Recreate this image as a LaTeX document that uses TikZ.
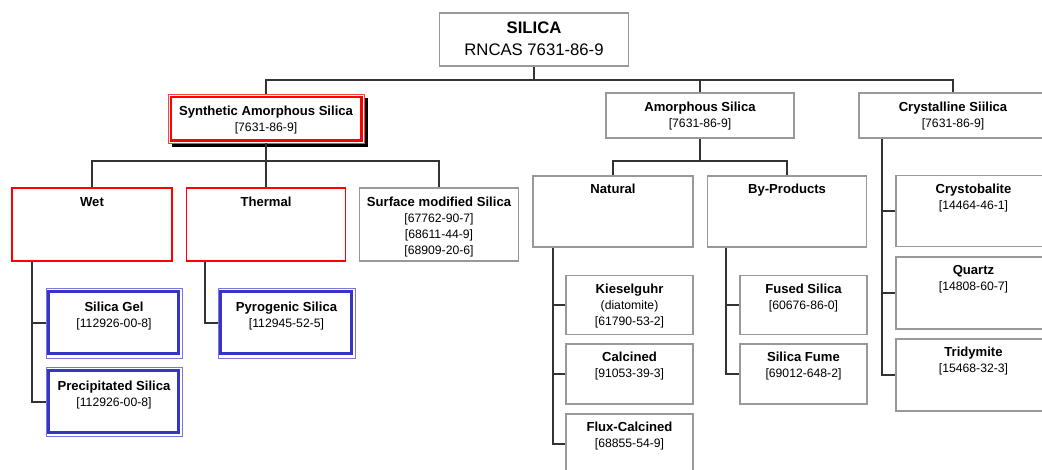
\documentclass[tikz,border=0pt]{standalone}
\usepackage{fontspec}
\setmainfont{Liberation Sans}
\definecolor{conncol}{HTML}{333333}
\definecolor{boxgray}{HTML}{999999}
\definecolor{redout}{HTML}{FF4040}
\definecolor{bluein}{HTML}{3535C8}
\definecolor{blueout}{HTML}{7777DD}
\tikzset{
  conn/.style={draw=conncol, line width=1.5pt},
  gbox/.style={draw=boxgray, line width=1.5pt, fill=white, inner sep=0pt},
  rbox/.style={draw=red, line width=1.5pt, fill=white, inner sep=0pt},
  sbox/.style={draw=redout, line width=0.8pt, fill=white, inner sep=0pt},
  sinner/.style={draw=red, line width=2.2pt},
  bbox/.style={draw=blueout, line width=1pt, fill=white, inner sep=0pt},
  binner/.style={draw=bluein, line width=3pt},
  lbl/.style={anchor=north, inner sep=0pt, align=center, font=\fontsize{12.2}{16}\selectfont},
}
\newcommand\hdr[1]{{\bfseries\fontsize{13.1}{16}\selectfont #1}}
\begin{document}
\begin{tikzpicture}[x=1pt, y=-1pt]
\useasboundingbox (0,0) rectangle (1042,469);
\clip (0,0) rectangle (1042,469);

% ---------- boxes ----------
\node[gbox, minimum width=189pt, minimum height=53pt] (title) at (534,39.5) {};
% synthetic with shadow
\fill[black] (172,98) rectangle (368,147);
\node[sbox, minimum width=196pt, minimum height=49pt] (syn) at (266,118.5) {};
\draw[sinner] ([shift={(3pt,-3pt)}]syn.north west) rectangle ([shift={(-3pt,3pt)}]syn.south east);
\node[gbox, minimum width=188pt, minimum height=45pt] (am) at (700,115.5) {};
\node[gbox, minimum width=188pt, minimum height=45pt] (cry) at (953,115.5) {};

\node[rbox, minimum width=160pt, minimum height=73pt] (wet) at (92,224.5) {};
\node[rbox, minimum width=159pt, minimum height=73pt] (th) at (266,224.5) {};
\node[gbox, minimum width=159pt, minimum height=73pt] (surf) at (439,224.5) {};

\node[bbox, minimum width=136pt, minimum height=70pt] (gel) at (114,323) {};
\node[bbox, minimum width=136pt, minimum height=69pt] (prec) at (114,402) {};
\node[bbox, minimum width=137pt, minimum height=70pt] (pyro) at (286.5,323) {};
\foreach \n in {gel,prec,pyro}{
  \draw[binner] ([shift={(3.2pt,-3.8pt)}]\n.north west) rectangle ([shift={(-4.2pt,4.8pt)}]\n.south east);
}

\node[gbox, minimum width=160pt, minimum height=71pt] (nat) at (613,211.5) {};
\node[gbox, minimum width=159pt, minimum height=71pt] (byp) at (787,211.5) {};
\node[gbox, minimum width=127pt, minimum height=59pt] (kies) at (629.5,305) {};
\node[gbox, minimum width=127pt, minimum height=60pt] (calc) at (629.5,374) {};
\node[gbox, minimum width=127pt, minimum height=60pt] (flux) at (629.5,444) {};
\node[gbox, minimum width=127pt, minimum height=59pt] (fused) at (803.5,305) {};
\node[gbox, minimum width=127pt, minimum height=60pt] (fume) at (803.5,374) {};
\node[gbox, minimum width=155pt, minimum height=71pt] (crysto) at (973.5,211) {};
\node[gbox, minimum width=155pt, minimum height=72pt] (quartz) at (973.5,293) {};
\node[gbox, minimum width=155pt, minimum height=72pt] (trid) at (973.5,375) {};

% ---------- labels ----------
\node[anchor=north, inner sep=0pt, align=center, font=\fontsize{16.7}{22}\selectfont] (title-t) at ([yshift=-9pt]title.north) {{\bfseries SILICA}\\RNCAS 7631-86-9};
\node[lbl] (syn-t) at ([yshift=-12.5pt]syn.north) {\hdr{Synthetic Amorphous Silica}\\{[7631-86-9]}};
\node[lbl] (am-t) at ([yshift=-10pt]am.north) {\hdr{Amorphous Silica}\\{[7631-86-9]}};
\node[lbl] (cry-t) at ([yshift=-10pt]cry.north) {\hdr{Crystalline Siilica}\\{[7631-86-9]}};
\node[lbl] (wet-t) at ([yshift=-10pt]wet.north) {\hdr{Wet}};
\node[lbl] (th-t) at ([yshift=-10pt]th.north) {\hdr{Thermal}};
\node[lbl] (surf-t) at ([yshift=-10pt]surf.north) {\hdr{Surface modified Silica}\\{[67762-90-7]}\\{[68611-44-9]}\\{[68909-20-6]}};
\node[lbl] (gel-t) at ([yshift=-14.5pt]gel.north) {\hdr{Silica Gel}\\{[112926-00-8]}};
\node[lbl] (prec-t) at ([yshift=-13.5pt]prec.north) {\hdr{Precipitated Silica}\\{[112926-00-8]}};
\node[lbl] (pyro-t) at ([yshift=-14.5pt]pyro.north) {\hdr{Pyrogenic Silica}\\{[112945-52-5]}};
\node[lbl] (nat-t) at ([yshift=-9pt]nat.north) {\hdr{Natural}};
\node[lbl] (byp-t) at ([yshift=-9pt]byp.north) {\hdr{By-Products}};
\node[lbl] (kies-t) at ([yshift=-9pt]kies.north) {\hdr{Kieselguhr}\\(diatomite)\\{[61790-53-2]}};
\node[lbl] (calc-t) at ([yshift=-9pt]calc.north) {\hdr{Calcined}\\{[91053-39-3]}};
\node[lbl] (flux-t) at ([yshift=-9pt]flux.north) {\hdr{Flux-Calcined}\\{[68855-54-9]}};
\node[lbl] (fused-t) at ([yshift=-9pt]fused.north) {\hdr{Fused Silica}\\{[60676-86-0]}};
\node[lbl] (fume-t) at ([yshift=-9pt]fume.north) {\hdr{Silica Fume}\\{[69012-648-2]}};
\node[lbl] (crysto-t) at ([yshift=-9pt]crysto.north) {\hdr{Crystobalite}\\{[14464-46-1]}};
\node[lbl] (quartz-t) at ([yshift=-9pt]quartz.north) {\hdr{Quartz}\\{[14808-60-7]}};
\node[lbl] (trid-t) at ([yshift=-9pt]trid.north) {\hdr{Tridymite}\\{[15468-32-3]}};

% ---------- connectors ----------
\coordinate (bus1) at (0,80);
\coordinate (bus2) at (0,161);
\coordinate (wetx) at (32,0);
\coordinate (thx) at (205,0);
\coordinate (natx) at (553,0);
\coordinate (bypx) at (726,0);
\coordinate (cryx) at (882,0);

\draw[conn] (title.south) -- (title.south |- bus1);
\draw[conn] (syn.north) |- (bus1 -| cry.north) -- (cry.north);
\draw[conn] (am.north) -- (am.north |- bus1);

\draw[conn] (syn.south) -- (th.north);
\draw[conn] (wet.north) |- (bus2 -| surf.north) -- (surf.north);

\draw[conn] (am.south) -- (am.south |- bus2);
\draw[conn] (nat.north) |- (bus2 -| byp.north) -- (byp.north);

\draw[conn] (wet.south -| wetx) |- (prec.west);
\draw[conn] (wetx |- gel.west) -- (gel.west);
\draw[conn] (th.south -| thx) |- (pyro.west);

\draw[conn] (nat.south -| natx) |- (flux.west);
\draw[conn] (natx |- kies.west) -- (kies.west);
\draw[conn] (natx |- calc.west) -- (calc.west);

\draw[conn] (byp.south -| bypx) |- (fume.west);
\draw[conn] (bypx |- fused.west) -- (fused.west);

\draw[conn] (cry.south -| cryx) |- (trid.west);
\draw[conn] (cryx |- crysto.west) -- (crysto.west);
\draw[conn] (cryx |- quartz.west) -- (quartz.west);
\end{tikzpicture}
\end{document}
